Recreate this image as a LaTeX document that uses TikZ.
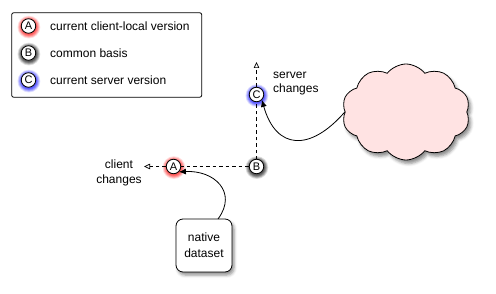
\documentclass[tikz,border=0pt]{standalone}
\usepackage{fontspec}
\setmainfont{Liberation Sans}
\usetikzlibrary{shapes.symbols,shadows.blur,arrows.meta}
\newcommand\myglow[2]{%
  \foreach \r/\o in {7.8/0.22,8.7/0.22,9.6/0.2,10.5/0.18,11.4/0.12}{%
    \fill[#2, opacity=\o] ($(#1)+(0.4,1.1)$) circle (\r);}}
\usetikzlibrary{calc}
\begin{document}
\begin{tikzpicture}[x=1pt,y=-1pt,
  ver/.style={circle, draw=black, line width=0.8pt, fill=white, inner sep=0pt, minimum size=14.5pt, font=\fontsize{11}{11}\selectfont},
  lbl/.style={font=\fontsize{12}{14}\selectfont, inner sep=0pt},
  dashline/.style={dashed, line width=0.7pt, dash pattern=on 3.5pt off 3pt},
  opentip/.style={-{Triangle[open, length=6pt, width=5.5pt, line width=0.7pt]}},
  curve/.style={line width=0.8pt, -{Latex[length=7pt, width=6pt]}},
  roundbox/.style={draw=black, line width=0.8pt, rounded corners=7pt, fill=white, blur shadow={shadow xshift=2pt, shadow yshift=-3pt, shadow blur radius=3pt, shadow opacity=45}},
]
\useasboundingbox (0,0) rectangle (496,294);

\coordinate (pla) at (28.5,26);
\coordinate (plb) at (28.5,53);
\coordinate (plc) at (28.5,80);
\coordinate (pA) at (173.5,166.5);
\coordinate (pB) at (256.5,166.5);
\coordinate (pC) at (256.5,94.5);

% glows
\myglow{pla}{red}
\myglow{plb}{black}
\myglow{plc}{blue}
\myglow{pA}{red}
\myglow{pB}{black}
\myglow{pC}{blue}

% legend
\node[draw=black, line width=0.8pt, rounded corners=2pt, minimum width=190pt, minimum height=84.5pt, inner sep=0pt] (legend) at (106.7,55) {};
\node[ver] (la) at (pla) {A};
\node[ver] (lb) at (plb) {B};
\node[ver] (lc) at (plc) {C};
\node[lbl, anchor=west] (ta) at (50,26) {current client-local version};
\node[lbl, anchor=west] (tb) at (50,53) {common basis};
\node[lbl, anchor=west] (tc) at (50,80) {current server version};

% version nodes
\coordinate (cup) at (256.5,62);
\coordinate (aleft) at (144,166.5);
\draw[dashline] (pA) -- (pB);
\draw[dashline] (pB) -- (pC);
\node[ver] (A) at (pA) {A};
\node[ver] (B) at (pB) {B};
\node[ver] (C) at (pC) {C};
\draw[dashline, opentip] (C) -- (cup);
\draw[dashline, opentip] (A) -- (aleft);

\node[lbl, align=left, anchor=west, font=\fontsize{12}{14}\selectfont] (sc) at (273,84) {server\\changes};
\node[lbl, align=center, font=\fontsize{12}{15}\selectfont] (cc) at (119,172.5) {client\\changes};

% cloud
\node[cloud, cloud puffs=10, cloud puff arc=105, aspect=1.35, draw=black, line width=0.8pt, fill=red!11,
  minimum width=128pt, minimum height=96pt,
  blur shadow={shadow xshift=2.5pt, shadow yshift=-3.5pt, shadow blur radius=3pt, shadow opacity=45}] (cloud) at (406,112) {};

% native dataset
\node[roundbox, minimum width=56pt, minimum height=53pt, align=center, lbl, font=\fontsize{12}{16}\selectfont] (nd) at (204,245.5) {native\\dataset};
\coordinate (ndtop) at (218,219);

\draw[curve] (cloud.west) .. controls (310,152) and (276,150) .. (C.south east);
\draw[curve] (ndtop) .. controls (238,192) and (214,170) .. (A.south east);
\end{tikzpicture}
\end{document}
